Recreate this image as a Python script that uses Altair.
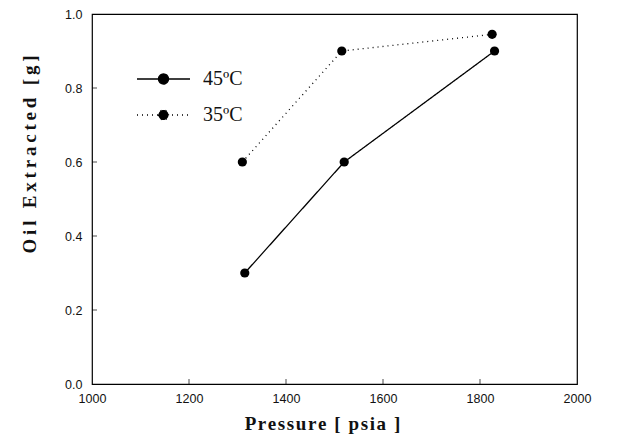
import altair as alt
import pandas as pd

# Data
pressure_45 = [1315, 1520, 1830]
oil_45 = [0.30, 0.60, 0.90]
pressure_35 = [1310, 1515, 1825]
oil_35 = [0.60, 0.90, 0.945]
series_names = ["45ºC", "35ºC"]
x_ticks = [1000, 1200, 1400, 1600, 1800, 2000]
y_ticks = [0.0, 0.2, 0.4, 0.6, 0.8, 1.0]

df = pd.concat([
    pd.DataFrame({"p": pressure_45, "oil": oil_45, "s": series_names[0]}),
    pd.DataFrame({"p": pressure_35, "oil": oil_35, "s": series_names[1]}),
])
xt = pd.DataFrame({"p": x_ticks[1:-1]})
yt = pd.DataFrame({"oil": y_ticks[1:-1]})

W, H = 485, 370
x_title = "\u200a".join("Pressure [ psia ]")
y_title = "\u2009".join("Oil Extracted [g]")

xs = alt.Scale(domain=[1000, 2000], nice=False, zero=False)
ys = alt.Scale(domain=[0, 1], nice=False)

xax = alt.Axis(values=x_ticks, format="d", ticks=False, labelPadding=8, labelFlush=False,
               title=x_title, titleX=230, titleY=45, titleBaseline="alphabetic",
               titleAlign="center", grid=False)
yax = alt.Axis(values=y_ticks, format=".1f", ticks=False, labelPadding=10, labelFlush=False,
               title=y_title, titleX=-57, titleY=140, titleAngle=270,
               titleBaseline="alphabetic", titleAlign="center", grid=False)

legend_path = "M-9.6,0L1,0M-5.3,0A1,1 0 1,0 -3.3,0A1,1 0 1,0 -5.3,0Z"

lines = alt.Chart(df).mark_line(color="black", strokeWidth=1.3).encode(
    x=alt.X("p:Q", scale=xs, axis=xax),
    y=alt.Y("oil:Q", scale=ys, axis=yax),
    strokeDash=alt.StrokeDash(
        "s:N",
        scale=alt.Scale(domain=series_names, range=[[1, 0], [1, 4]]),
        legend=alt.Legend(
            title=None, orient="none", legendX=83, legendY=55, padding=0,
            symbolType=legend_path, symbolSize=100, symbolStrokeWidth=1.3,
            symbolFillColor="black", symbolStrokeColor="black",
            labelFont="Liberation Serif", labelFontSize=20, labelColor="#111",
            labelOffset=8, rowPadding=16,
        ),
    ),
    detail="s:N",
)

points = alt.Chart(df).mark_point(filled=True, color="black", size=85, opacity=1).encode(
    x=alt.X("p:Q", scale=xs),
    y=alt.Y("oil:Q", scale=ys),
)

xticks = alt.Chart(xt).mark_tick(color="black", thickness=1, size=5, orient="vertical",
                                 yOffset=-2.5).encode(
    x=alt.X("p:Q", scale=xs), y=alt.value(H))
yticks = alt.Chart(yt).mark_tick(color="black", thickness=1, size=5, orient="horizontal",
                                 xOffset=2.5).encode(
    y=alt.Y("oil:Q", scale=ys), x=alt.value(0))

chart = alt.layer(lines, points, xticks, yticks).properties(
    width=W, height=H,
    autosize=alt.AutoSizeParams(type="none"),
    padding={"left": 84, "top": 6, "right": 39, "bottom": 57},
).configure_view(stroke="black", strokeWidth=1.2).configure_axis(
    labelFont="Liberation Sans", labelFontSize=12.5, labelColor="#111",
    titleFont="Liberation Serif", titleFontSize=19, titleFontWeight="bold", titleColor="#111",
    domain=False,
)

chart.save("out.html", embed_options={"renderer": "svg", "actions": False})
